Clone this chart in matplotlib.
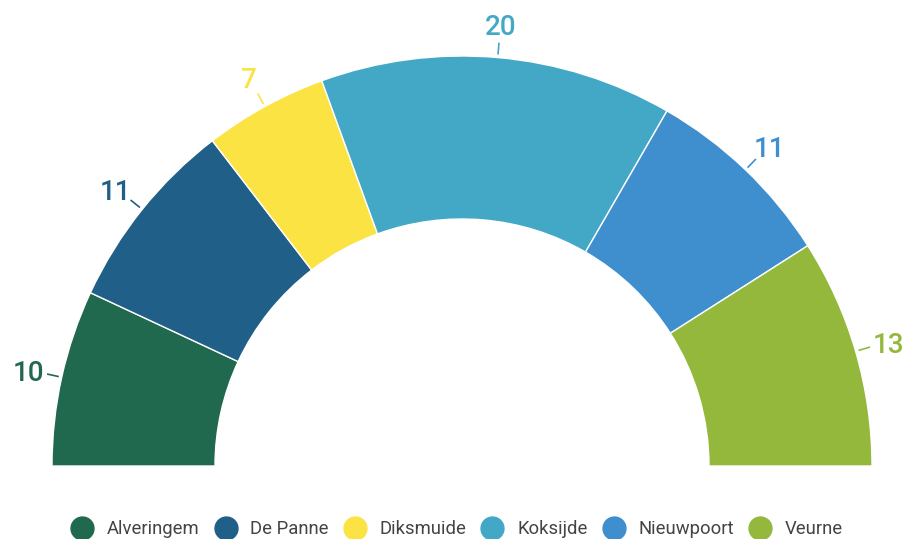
import matplotlib
matplotlib.use("Agg")
import matplotlib.pyplot as plt
from matplotlib.lines import Line2D
import numpy as np

categories = ["Alveringem", "De Panne", "Diksmuide", "Koksijde", "Nieuwpoort", "Veurne"]
values = [10, 11, 7, 20, 11, 13]
colors = ["#20694E", "#1F5F88", "#FCE344", "#43A8C6", "#3F8FCF", "#93B83C"]

plt.rcParams['font.family'] = ['Roboto', 'DejaVu Sans']

W, H = 905, 539
fig = plt.figure(figsize=(W / 100, H / 100), dpi=100)
ax = fig.add_axes([0, 0, 1, 1])

cx, cy = 462, H - 466
R, r_in = 410, 247

total = sum(values)
wedges, _ = ax.pie(values + [total], colors=colors + ["none"], startangle=180,
                   counterclock=False, center=(cx, cy), radius=R,
                   wedgeprops=dict(width=R - r_in, edgecolor="white", linewidth=1))
wedges[-1].set_edgecolor("none")

for w, v, c in zip(wedges[:-1], values, colors):
    ang = np.deg2rad((w.theta1 + w.theta2) / 2)
    ca, sa = np.cos(ang), np.sin(ang)
    ax.plot([cx + (R + 3) * ca, cx + (R + 15) * ca], [cy + (R + 3) * sa, cy + (R + 15) * sa],
            color=c, lw=1.2, solid_capstyle="butt")
    ax.text(cx + (R + 34) * ca, cy + (R + 34) * sa - 4, str(v), color=c, fontsize=20,
            fontweight="medium", ha="center", va="center")

ax.set_xlim(0, W)
ax.set_ylim(0, H)
ax.set_aspect("auto")
ax.axis("off")

handles = [Line2D([0], [0], marker="o", linestyle="none", markersize=16.5,
                  markerfacecolor=c, markeredgecolor=c) for c in colors]
leg = fig.legend(handles, categories, loc="center", bbox_to_anchor=(457 / W, 1 - 529 / H),
                 ncol=6, frameon=False, fontsize=13.3, handletextpad=0.75,
                 columnspacing=0.8, handlelength=1.2)
for t in leg.get_texts():
    t.set_color("#444444")

fig.savefig("out.png", dpi=100)
